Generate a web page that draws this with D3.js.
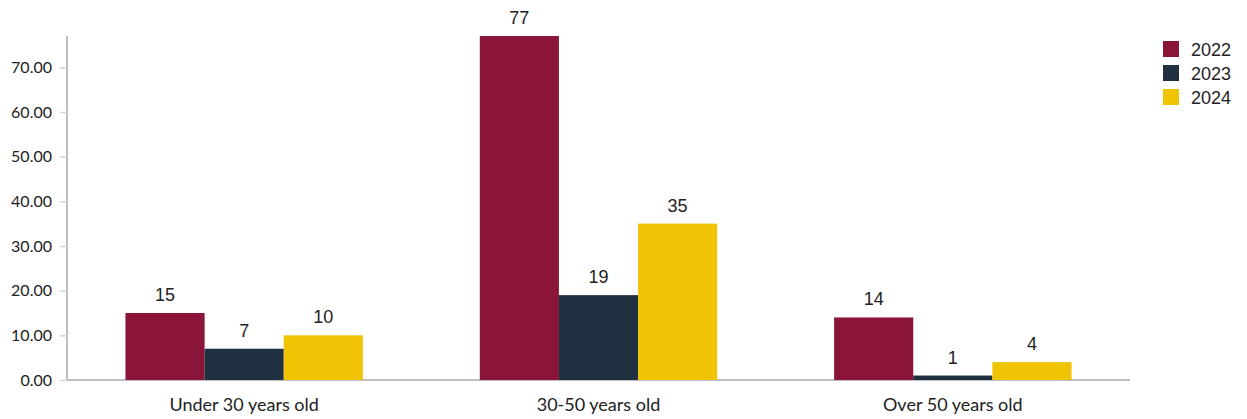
<!DOCTYPE html>
<html>
<head>
<meta charset="utf-8">
<script src="https://cdn.jsdelivr.net/npm/d3@7"></script>
<style>
  body { margin: 0; background: #fff; }
  svg { display: block; }
</style>
</head>
<body>
<svg id="chart" width="1247" height="419"></svg>
<script>
// Employee counts by age group, per year
const categories = ["Under 30 years old", "30-50 years old", "Over 50 years old"];
const years = ["2022", "2023", "2024"];
const values2022 = [15, 77, 14];
const values2023 = [7, 19, 1];
const values2024 = [10, 35, 4];
const yTicks = [0, 10, 20, 30, 40, 50, 60, 70];
const colors = ["#8B1538", "#1F3040", "#F0C405"];

const seriesValues = [values2022, values2023, values2024];

const svg = d3.select("#chart");
const margin = { left: 67, right: 117, top: 36, bottom: 39 };
const W = 1247, H = 419;

const x0 = d3.scaleBand()
  .domain(categories)
  .range([margin.left, W - margin.right])
  .paddingInner(0.33)
  .paddingOuter(0.165);

const x1 = d3.scaleBand()
  .domain(years)
  .range([0, x0.bandwidth()]);

const y = d3.scaleLinear()
  .domain([0, 77])
  .range([H - margin.bottom, margin.top]);

const font = "Lato, 'Open Sans', sans-serif";
const sansFont = "'Liberation Sans', Arial, sans-serif";

// Y axis
const yAxis = svg.append("g")
  .attr("transform", `translate(${margin.left},0)`)
  .call(d3.axisLeft(y).tickValues(yTicks).tickFormat(d3.format(".2f")).tickSize(7).tickPadding(8));
yAxis.select(".domain").attr("stroke", "#bdbdc4").attr("stroke-width", 2).attr("d", `M0,${y(0)}V${margin.top}`);
yAxis.selectAll(".tick line").attr("stroke", "#d4d4d8").attr("stroke-width", 1.5);
yAxis.selectAll(".tick text")
  .attr("fill", "#222").style("font-family", font).style("font-size", "16px");

// X axis baseline
svg.append("line")
  .attr("x1", margin.left).attr("x2", W - margin.right)
  .attr("y1", y(0)).attr("y2", y(0))
  .attr("stroke", "#bdbdc4").attr("stroke-width", 2);

// Bars
const groups = svg.append("g").selectAll("g")
  .data(categories)
  .join("g")
  .attr("transform", d => `translate(${x0(d)},0)`);

groups.selectAll("rect")
  .data((c, i) => years.map((yr, j) => ({ yr, v: seriesValues[j][i], j })))
  .join("rect")
  .attr("x", d => x1(d.yr))
  .attr("y", d => y(d.v))
  .attr("width", x1.bandwidth())
  .attr("height", d => y(0) - y(d.v))
  .attr("fill", d => colors[d.j]);

groups.selectAll("text.val")
  .data((c, i) => years.map((yr, j) => ({ yr, v: seriesValues[j][i], j })))
  .join("text")
  .attr("class", "val")
  .attr("x", d => x1(d.yr) + x1.bandwidth() / 2)
  .attr("y", d => y(d.v) - 12)
  .attr("text-anchor", "middle")
  .attr("fill", "#222")
  .style("font-family", sansFont)
  .style("font-size", "18px")
  .text(d => d.v);

// Category labels
svg.append("g").selectAll("text")
  .data(categories)
  .join("text")
  .attr("x", d => x0(d) + x0.bandwidth() / 2)
  .attr("y", 411)
  .attr("text-anchor", "middle")
  .attr("fill", "#222")
  .style("font-family", font)
  .style("font-size", "18px")
  .text(d => d);

// Legend
const legend = svg.append("g").attr("transform", "translate(1163,41)");
const items = legend.selectAll("g")
  .data(years)
  .join("g")
  .attr("transform", (d, i) => `translate(0,${i * 24})`);
items.append("rect")
  .attr("width", 16).attr("height", 16)
  .attr("fill", (d, i) => colors[i]);
items.append("text")
  .attr("x", 28).attr("y", 14.5)
  .attr("fill", "#222")
  .style("font-family", sansFont)
  .style("font-size", "18px")
  .text(d => d);
</script>
</body>
</html>
